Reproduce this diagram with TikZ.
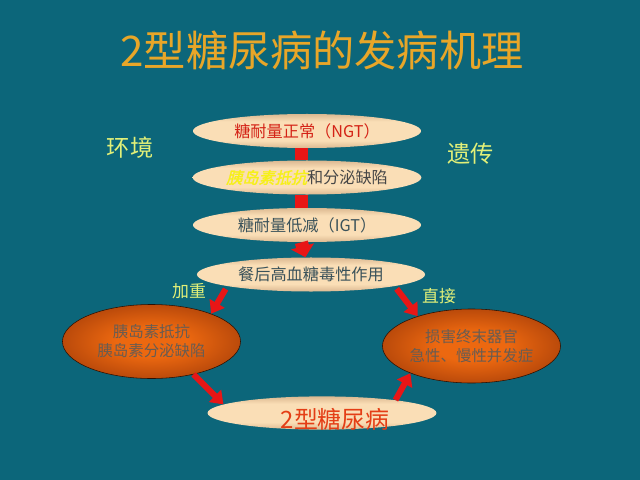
\documentclass[tikz,border=0pt]{standalone}
\usepackage{fontspec}
\setmainfont{Noto Sans CJK SC}
\newfontfamily\slantcjk[FakeSlant=0.25,FakeBold=1.5]{Noto Sans CJK SC}
\usepackage{tikz}
\usetikzlibrary{shapes.geometric}
\usetikzlibrary{arrows.meta}

\definecolor{slidebg}{RGB}{12,102,122}
\definecolor{titlegold}{RGB}{232,166,40}
\definecolor{labelgreen}{RGB}{226,240,120}
\definecolor{beigelight}{RGB}{250,222,182}
\definecolor{beigedark}{RGB}{150,100,62}
\definecolor{emberlight}{RGB}{236,104,16}
\definecolor{embermid}{RGB}{160,58,8}
\definecolor{emberdark}{RGB}{44,16,2}
\definecolor{arrowred}{RGB}{232,22,22}
\definecolor{stagetext}{RGB}{58,82,90}
\definecolor{ngtred}{RGB}{212,34,22}
\definecolor{embertext}{RGB}{104,92,82}
\definecolor{dmred}{RGB}{228,62,22}
\definecolor{resistyellow}{RGB}{246,240,24}

\pgfdeclareverticalshading{beigeband}{100bp}{color(0bp)=(beigedark); color(36bp)=(beigelight); color(64bp)=(beigelight); color(100bp)=(beigedark)}
\pgfdeclareradialshading{emberglow}{\pgfpoint{0bp}{0bp}}{color(0bp)=(emberlight); color(10bp)=(emberlight); color(33bp)=(embermid); color(50bp)=(emberdark)}

\newcommand{\sidelabel}[4]{\node[sidelabel] (#1) at ( #2 , #3 ) {#4};}
\newcommand{\steplabel}[4]{\node[steplabel] (#1) at ( #2 , #3 ) {#4};}

\tikzset{
  stage/.style={ellipse, shading=beigeband, minimum width=5.7cm, minimum height=0.85cm,
    inner sep=0pt, text=stagetext, font=\fontsize{11.5}{13}\selectfont},
  ember/.style={ellipse, shading=emberglow, draw=emberdark, minimum width=4.45cm,
    minimum height=1.85cm, inner sep=0pt, align=center, text=embertext,
    font=\fontsize{11}{13.5}\selectfont},
  flowbar/.style={arrowred, line width=0.33cm},
  flowarrow/.style={arrowred, line width=0.33cm, -{Triangle[width=0.58cm,length=0.28cm]}},
  sidearrow/.style={arrowred, line width=0.15cm, -{Triangle[width=0.42cm,length=0.3cm]}},
  sidelabel/.style={text=labelgreen, font=\fontsize{16.5}{18}\selectfont},
  steplabel/.style={text=labelgreen, font=\fontsize{12}{14}\selectfont},
}

\begin{document}
\begin{tikzpicture}[x=0.025cm, y=-0.025cm]
        % slide
        \fill[slidebg] (0,0) rectangle (640,480);
        \node[text=titlegold, font=\fontsize{30}{32}\selectfont] (title) at (322,50.5) {2型糖尿病的发病机理};

        % main chain
        \node[stage, text=ngtred] (ngt) at (307,131) {糖耐量正常（NGT）};
        \node[stage, text={black!72}] (resist) at (307,177.5) {{\slantcjk\color{resistyellow}胰岛素抵抗}和分泌缺陷};
        \node[stage] (igt) at (307,225) {糖耐量低减（IGT）};
        \node[stage] (toxic) at (311,274.5) {餐后高血糖毒性作用};

        % side ellipses
        \node[ember] (insul) at (151.5,341.5) {胰岛素抵抗\\胰岛素分泌缺陷};
        \node[ember] (organ) at (471.5,346) {损害终末器官\\急性、慢性并发症};
        \node[stage, minimum width=5.72cm, minimum height=0.83cm,
          label={[text=dmred, font=\fontsize{17}{19}\selectfont, xshift=0.33cm, yshift=-0.15cm]center:2型糖尿病}] (dm) at (322,413) {};

        % labels
        \sidelabel{env}{130}{147.5}{环境}
        \sidelabel{gene}{470.5}{153.5}{遗传}
        \steplabel{worse}{189}{291.5}{加重}
        \steplabel{direct}{439}{296.5}{直接}

        % arrows
        \draw[flowbar] ([xshift=-0.14cm]ngt.south) -- ([xshift=-0.14cm]resist.north);
        \draw[flowbar] ([xshift=-0.14cm]resist.south) -- ([xshift=-0.14cm]igt.north);
        \draw[flowarrow] ([xshift=-0.14cm]igt.south) -- ([xshift=-0.14cm]toxic.north);
        \draw[sidearrow, shorten <=0.08cm] (toxic.188) -- (insul.25);
        \draw[sidearrow, shorten <=0.08cm] (toxic.352) -- (organ.151);
        \draw[sidearrow] (insul.322) -- (dm.175);
        \draw[sidearrow] (dm.10) -- (organ.204);
\end{tikzpicture}
\end{document}
